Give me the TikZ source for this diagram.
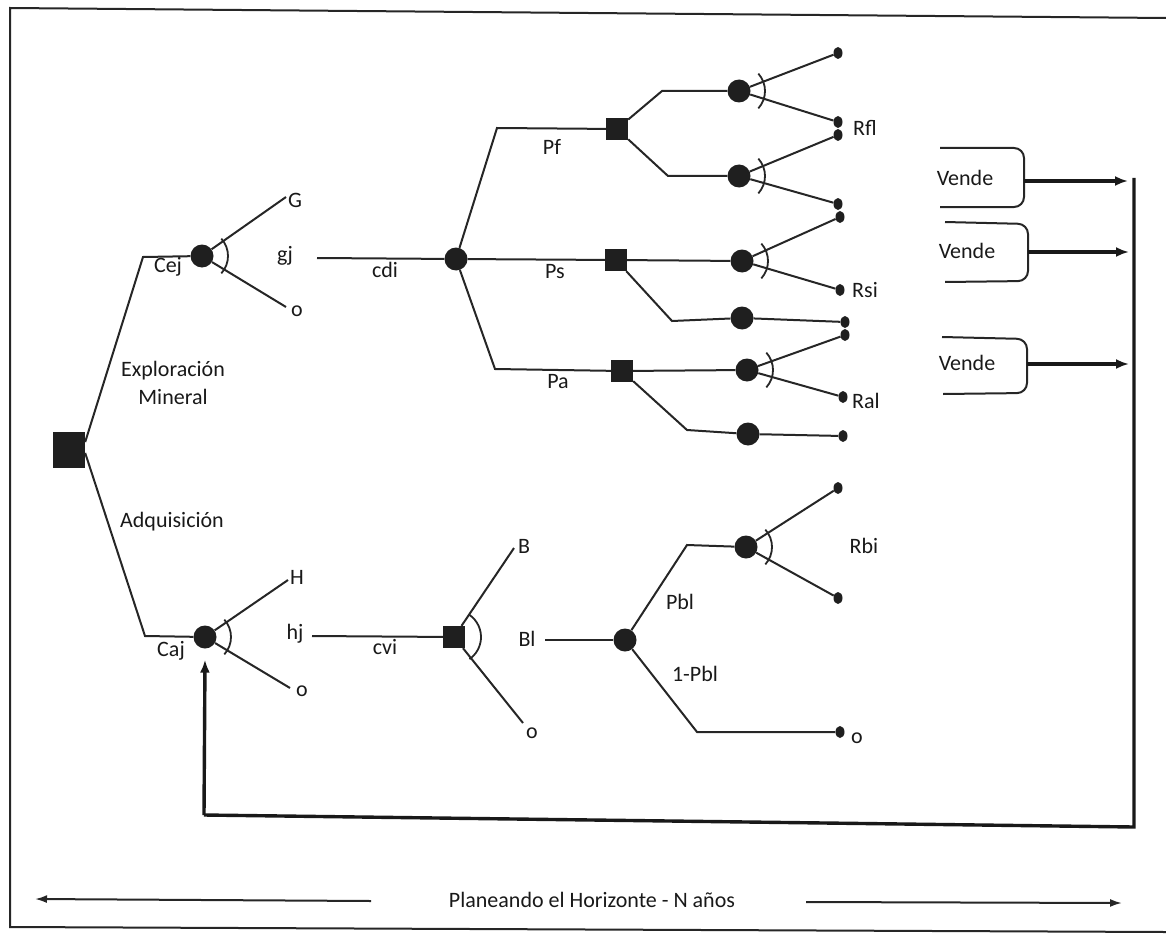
\documentclass[tikz,border=0pt]{standalone}
\usepackage{fontspec}
\setmainfont{Carlito}
\usetikzlibrary{shapes.geometric,arrows.meta}
\begin{document}
\begin{tikzpicture}[x=1pt,y=-1pt,
  every node/.style={font=\fontsize{22}{24}\selectfont, text=black!90},
  ln/.style={line width=2pt, draw=black!85},
  thk/.style={line width=3.4pt, draw=black!90},
  chance/.style={circle, fill=black!88, minimum size=23pt, inner sep=0pt},
  dec/.style={rectangle, fill=black!88, minimum size=22pt, inner sep=0pt},
  term/.style={ellipse, fill=black!88, minimum width=9pt, minimum height=12pt, inner sep=0pt},
  lbl/.style={inner sep=1pt},
  tip/.style={-{Latex[length=13pt,width=10pt]}},
  sel/.style={line width=1.8pt, draw=black!85}
]
\useasboundingbox (0,0) rectangle (1166,936);

% frame
\draw[ln] (1166,18) -- (10,8) -- (10,927) -- (1166,932);

% decision / chance nodes
\node[dec, minimum width=32pt, minimum height=36pt] (root) at (69,450) {};
\node[chance] (cej) at (202,256) {};
\node[chance] (caj) at (205,637) {};
\node[chance] (cdi) at (456,259) {};
\node[dec] (pf) at (617,129) {};
\node[dec] (ps) at (616,260) {};
\node[dec] (pa) at (622,371) {};
\node[chance] (f1) at (739,91) {};
\node[chance] (f2) at (739,176) {};
\node[chance] (s1) at (742,261) {};
\node[chance] (s2) at (742,318) {};
\node[chance] (a1) at (747,370) {};
\node[chance] (a2) at (748,434) {};
\node[dec] (cv) at (454,637) {};
\node[chance] (bl) at (625,640) {};
\node[chance] (b1) at (746,547) {};

% terminals
\node[term] (t1) at (838,53) {};
\node[term] (t2) at (838,122) {};
\node[term] (t3) at (838,135) {};
\node[term] (t4) at (838,204) {};
\node[term] (t5) at (840,217) {};
\node[term] (t6) at (840,290) {};
\node[term] (t7) at (845,322) {};
\node[term] (t8) at (845,335) {};
\node[term] (t9) at (843,397) {};
\node[term] (t10) at (843,436) {};
\node[term] (t11) at (838,488) {};
\node[term] (t12) at (838,598) {};
\node[term] (t13) at (840,732) {};

% labels
\node[lbl] (lexp) at (173,371) {Exploración};
\node[lbl] (lmin) at (173,397) {Mineral};
\node[lbl] (ladq) at (172,522) {Adquisición};
\node[lbl] (lcej) at (168,267) {Cej};
\node[lbl] (lg) at (295,200) {G};
\node[lbl] (lgj) at (285,256) {gj};
\node[lbl] (lo1) at (297,311) {o};
\node[lbl] (lcdi) at (385,270) {cdi};
\node[lbl] (lpf) at (552,147) {Pf};
\node[lbl] (lps) at (555,272) {Ps};
\node[lbl] (lpa) at (558,382) {Pa};
\node[lbl] (lrfl) at (865,128) {Rfl};
\node[lbl] (lrsi) at (865,290) {Rsi};
\node[lbl] (lral) at (866,401) {Ral};
\node[lbl] (lcaj) at (171,651) {Caj};
\node[lbl] (lh) at (297,577) {H};
\node[lbl] (lhj) at (295,634) {hj};
\node[lbl] (lo2) at (302,691) {o};
\node[lbl] (lcvi) at (385,647) {cvi};
\node[lbl] (lb) at (524,546) {B};
\node[lbl] (lo3) at (532,733) {o};
\node[lbl] (lbl) at (527,639) {Bl};
\node[lbl] (lpbl) at (680,602) {Pbl};
\node[lbl] (l1pbl) at (695,674) {1-Pbl};
\node[lbl] (lrbi) at (864,546) {Rbi};
\node[lbl] (lo4) at (857,738) {o};

% free ends
\coordinate (gE) at (286,197);
\coordinate (o1E) at (286,307);
\coordinate (cdS) at (317,258);
\coordinate (hE) at (288,580);
\coordinate (o2E) at (290,688);
\coordinate (cvS) at (312,636);
\coordinate (bE) at (514,548);
\coordinate (o3E) at (523,723);
\coordinate (blS) at (545,640);

% tree connectors
\draw[ln] ([yshift=8pt]root.east) -- (143,257) -- (cej);
\draw[ln] ([yshift=-3pt]root.east) -- (145,636) -- (caj);
\draw[ln] (cej) -- (gE);
\draw[ln] (cej) -- (o1E);
\draw[ln] (cdS) -- (cdi);
\draw[ln] (cdi) -- (497,128) -- (pf);
\draw[ln] (cdi) -- (ps);
\draw[ln] (cdi) -- (495,369) -- (pa);
\draw[ln] (pf) -- (662,91) -- (f1);
\draw[ln] (pf) -- (668,176) -- (f2);
\draw[ln] (f1) -- (t1);
\draw[ln] (f1) -- (t2);
\draw[ln] (f2) -- (t3);
\draw[ln] (f2) -- (t4);
\draw[ln] (ps) -- (s1);
\draw[ln] (ps) -- (672,321) -- (s2);
\draw[ln] (s2) -- (t7);
\draw[ln] (s1) -- (t5);
\draw[ln] (s1) -- (t6);
\draw[ln] (pa) -- (a1);
\draw[ln] (pa) -- (687,430) -- (a2);
\draw[ln] (a2) -- (t10);
\draw[ln] (a1) -- (t8);
\draw[ln] (a1) -- (t9);
\draw[ln] (caj) -- (hE);
\draw[ln] (caj) -- (o2E);
\draw[ln] (cvS) -- (cv);
\draw[ln] (cv) -- (bE);
\draw[ln] (cv) -- (o3E);
\draw[ln] (blS) -- (bl);
\draw[ln] (bl) -- (687,545) -- (b1);
\draw[ln] (b1) -- (t11);
\draw[ln] (b1) -- (t12);
\draw[ln] (bl) -- (697,732) -- (t13);

% arcs at branching points
\foreach \n in {cej,caj,f1,f2,s1,a1,b1}
  \draw[sel] (\n) ++(-42:26) arc[start angle=-42, end angle=42, radius=26];
\draw[sel] (cv) ++(-55:27) arc[start angle=-55, end angle=55, radius=27];

% Vende boxes
\draw[ln, rounded corners=10pt] (940,148) -- (1024,148) -- (1024,207) -- (940,207);
\draw[ln, rounded corners=10pt] (945,222) -- (1028,224) -- (1028,281) -- (945,282);
\draw[ln, rounded corners=10pt] (942,337) -- (1027,339) -- (1027,393) -- (943,394);
\node[lbl] (v1) at (965,178) {Vende};
\node[lbl] (v2) at (967,251) {Vende};
\node[lbl] (v3) at (967,363) {Vende};

\coordinate (v1E) at (1024,181);
\coordinate (v2E) at (1028,252);
\coordinate (v3E) at (1027,364);
\coordinate (v1T) at (1128,181);
\coordinate (v2T) at (1129,252);
\coordinate (v3T) at (1129,364);
\draw[thk, tip] (v1E) -- (v1T);
\draw[thk, tip] (v2E) -- (v2T);
\draw[thk, tip] (v3E) -- (v3T);

% feedback loop
\coordinate (fbT) at (1134,178);
\coordinate (fbB) at (1134,827);
\coordinate (fbL) at (204,815);
\draw[thk] (fbT) -- (fbB) -- (fbL);
\draw[thk, tip] (fbL) -- ([yshift=-11pt]caj.south);

% horizon
\node[lbl] (hz) at (592,900) {Planeando el Horizonte - N años};
\coordinate (hzL1) at (371,901);
\coordinate (hzL2) at (35,899);
\coordinate (hzR1) at (806,902);
\coordinate (hzR2) at (1122,903);
\draw[ln, -{Latex[length=12pt,width=8pt]}] (hzL1) -- (hzL2);
\draw[ln, -{Latex[length=12pt,width=8pt]}] (hzR1) -- (hzR2);
\end{tikzpicture}
\end{document}
